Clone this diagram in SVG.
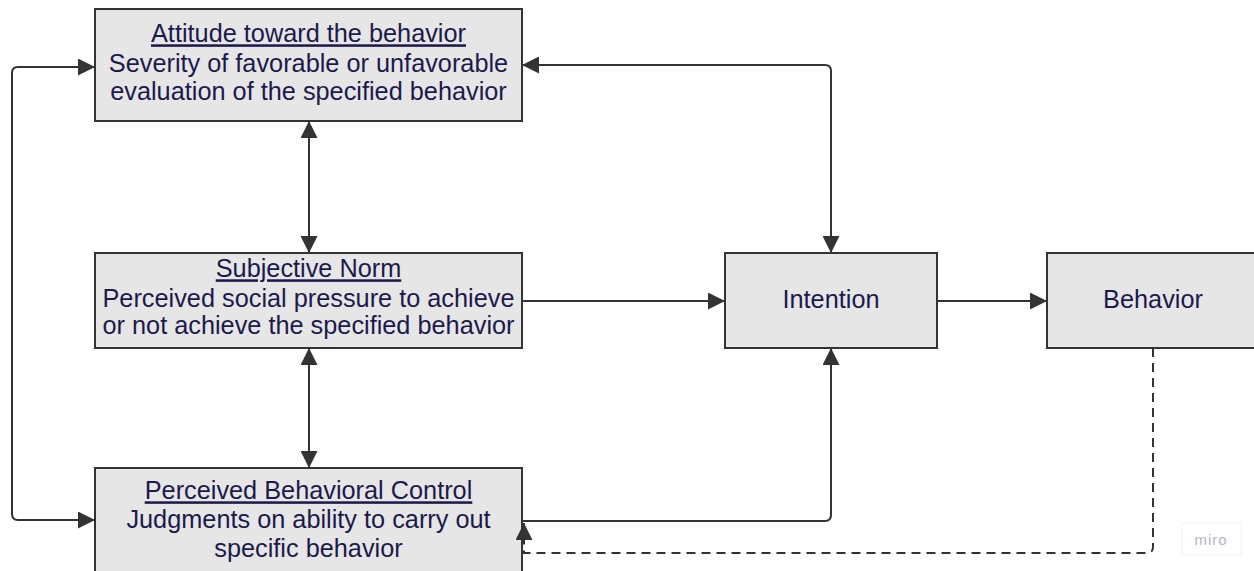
<svg xmlns="http://www.w3.org/2000/svg" width="1254" height="571" viewBox="0 0 1254 571">
<style>
.box{fill:#e6e6e6;stroke:#333333;stroke-width:2}
.t{font-family:"Liberation Sans",Arial,sans-serif;font-size:25.3px;fill:#1c1a4d;text-anchor:middle}
.u{text-decoration:underline;text-underline-offset:5px}
.c{fill:none;stroke:#333333;stroke-width:2}
.d{stroke-dasharray:9 6}
.wm{font-family:"Liberation Sans",Arial,sans-serif;font-size:15px;fill:#b4b4c4;text-anchor:middle;letter-spacing:1px}
</style>
<defs>
<marker id="ah" viewBox="0 0 17 17" refX="17" refY="8.5" markerWidth="17" markerHeight="17" markerUnits="userSpaceOnUse" orient="auto-start-reverse">
<path d="M0,0 L17,8.5 L0,17 z" fill="#333333"/>
</marker>
</defs>
<rect width="1254" height="571" fill="#ffffff"/>
<g id="attitude">
<rect class="box" x="95" y="9" width="427" height="112"/>
<text class="t u" x="308.5" y="42.3">Attitude toward the behavior</text>
<text class="t" x="308.5" y="71.7">Severity of favorable or unfavorable</text>
<text class="t" x="308.5" y="100">evaluation of the specified behavior</text>
</g>
<g id="subjective-norm">
<rect class="box" x="95" y="253" width="427" height="95"/>
<text class="t u" x="308.5" y="277.3">Subjective Norm</text>
<text class="t" x="308.5" y="306.7">Perceived social pressure to achieve</text>
<text class="t" x="308.5" y="334.3">or not achieve the specified behavior</text>
</g>
<g id="pbc">
<rect class="box" x="95" y="468" width="427" height="120"/>
<text class="t u" x="308.5" y="499.3">Perceived Behavioral Control</text>
<text class="t" x="308.5" y="528.3">Judgments on ability to carry out</text>
<text class="t" x="308.5" y="556.7">specific behavior</text>
</g>
<g id="intention">
<rect class="box" x="725" y="253" width="212" height="95"/>
<text class="t" x="831" y="308.3">Intention</text>
</g>
<g id="behavior">
<rect class="box" x="1047" y="253" width="212" height="95"/>
<text class="t" x="1153" y="308.3">Behavior</text>
</g>
<g id="connectors">
<path class="c" d="M95,67 H18 Q12,67 12,73 V514 Q12,520 18,520 H95" marker-start="url(#ah)" marker-end="url(#ah)"/>
<path class="c" d="M522,65 H825 Q831,65 831,71 V253" marker-start="url(#ah)" marker-end="url(#ah)"/>
<path class="c" d="M309,121 V253" marker-start="url(#ah)" marker-end="url(#ah)"/>
<path class="c" d="M309,348 V468" marker-start="url(#ah)" marker-end="url(#ah)"/>
<path class="c" d="M522,301 H725" marker-end="url(#ah)"/>
<path class="c" d="M937,301 H1047" marker-end="url(#ah)"/>
<path class="c" d="M523,521 H825 Q831,521 831,515 V348" marker-end="url(#ah)"/>
<path class="c d" d="M1153,348 V547 Q1153,553 1147,553 H524 V523" marker-end="url(#ah)"/>
</g>
<g id="watermark">
<rect x="1182" y="523" width="59" height="32" fill="#ffffff" stroke="#f2f2f4" stroke-width="1"/>
<text class="wm" x="1211" y="545">miro</text>
</g>
</svg>
